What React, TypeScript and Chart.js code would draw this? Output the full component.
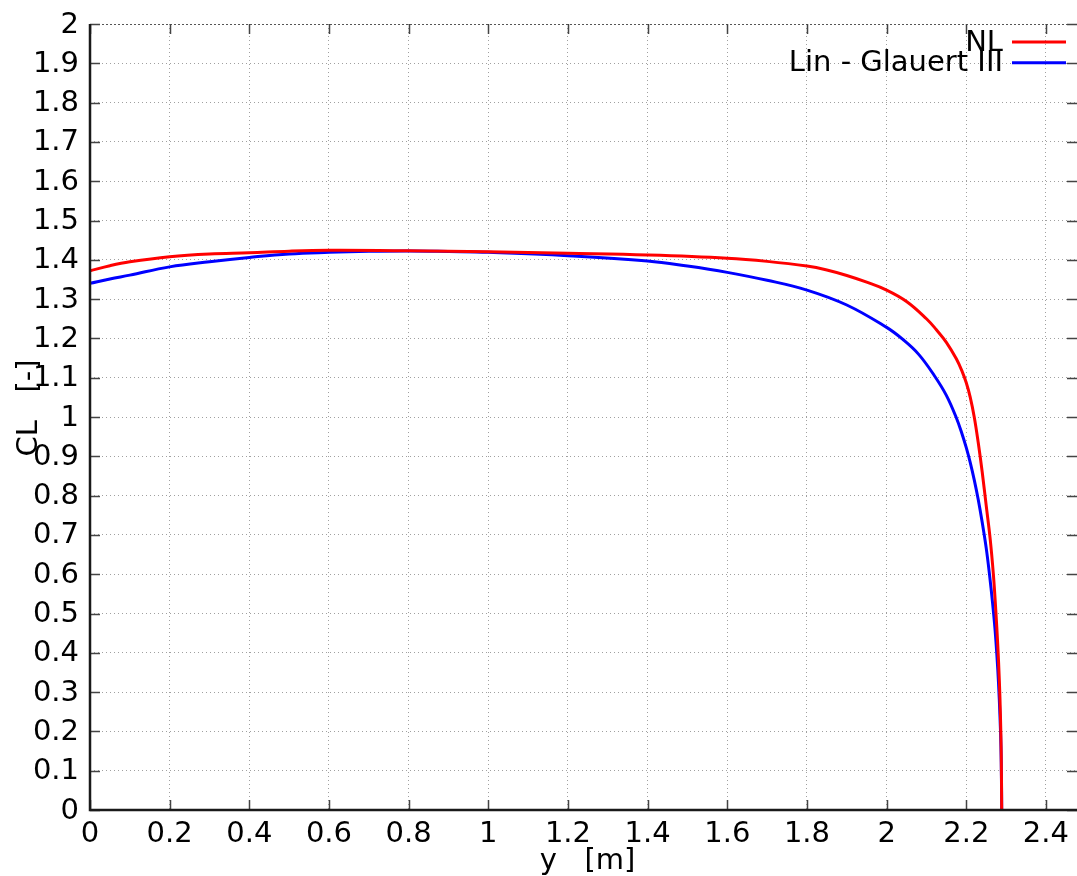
import React, { useEffect, useRef } from "react";
import { Chart, registerables } from "chart.js";

Chart.register(...registerables);

// NL series
const nlX = [0, 0.05, 0.1, 0.2, 0.3, 0.4, 0.5, 0.6, 0.8, 1.0, 1.2, 1.4, 1.6, 1.7, 1.8, 1.85, 1.9, 1.95, 2.0, 2.05, 2.1, 2.125, 2.15, 2.175, 2.19, 2.2, 2.21, 2.22, 2.23, 2.24, 2.25, 2.26, 2.268, 2.274, 2.279, 2.283, 2.2858, 2.2878, 2.289];
const nlY = [1.372, 1.385, 1.395, 1.408, 1.415, 1.418, 1.422, 1.424, 1.423, 1.4205, 1.4165, 1.412, 1.404, 1.396, 1.384, 1.374, 1.36, 1.343, 1.323, 1.294, 1.25, 1.222, 1.19, 1.148, 1.115, 1.087, 1.05, 1.0, 0.935, 0.86, 0.775, 0.69, 0.6, 0.51, 0.42, 0.33, 0.24, 0.14, 0];

// Lin - Glauert III series
const lgX = [0, 0.05, 0.1, 0.2, 0.3, 0.4, 0.5, 0.6, 0.7, 0.8, 0.9, 1.0, 1.2, 1.4, 1.5, 1.6, 1.7, 1.8, 1.9, 2.0, 2.04, 2.08, 2.12, 2.15, 2.175, 2.19, 2.2, 2.21, 2.22, 2.23, 2.24, 2.25, 2.258, 2.266, 2.272, 2.277, 2.281, 2.2845, 2.287, 2.2883, 2.289];
const lgY = [1.34, 1.351, 1.361, 1.382, 1.395, 1.406, 1.415, 1.419, 1.4215, 1.4224, 1.421, 1.419, 1.4105, 1.397, 1.384, 1.368, 1.348, 1.323, 1.285, 1.228, 1.198, 1.16, 1.105, 1.055, 0.998, 0.955, 0.922, 0.884, 0.84, 0.79, 0.732, 0.667, 0.602, 0.527, 0.462, 0.392, 0.322, 0.242, 0.162, 0.08, 0];

const xTickValues = [0, 0.2, 0.4, 0.6, 0.8, 1, 1.2, 1.4, 1.6, 1.8, 2, 2.2, 2.4];
const xTickLabels = ["0", "0.2", "0.4", "0.6", "0.8", "1", "1.2", "1.4", "1.6", "1.8", "2", "2.2", "2.4"];
const yTickValues = [0, 0.1, 0.2, 0.3, 0.4, 0.5, 0.6, 0.7, 0.8, 0.9, 1, 1.1, 1.2, 1.3, 1.4, 1.5, 1.6, 1.7, 1.8, 1.9, 2];
const yTickLabels = ["0", "0.1", "0.2", "0.3", "0.4", "0.5", "0.6", "0.7", "0.8", "0.9", "1", "1.1", "1.2", "1.3", "1.4", "1.5", "1.6", "1.7", "1.8", "1.9", "2"];

const seriesNames = ["NL", "Lin - Glauert III"];
const seriesColors = ["#ff0000", "#0000ff"];
const xTitle = "y   [m]";
const yTitle = "CL   [-]";

const FONT = "29px 'DejaVu Sans'";

const overlay = {
  id: "gnuplotOverlay",
  afterDraw(chart: any) {
    const ctx = chart.ctx as CanvasRenderingContext2D;
    const xs = chart.scales.x;
    const ys = chart.scales.y;
    const a = chart.chartArea;
    ctx.save();

    // top border (dotted, darker)
    ctx.strokeStyle = "#555";
    ctx.lineWidth = 1;
    ctx.setLineDash([2, 2]);
    ctx.beginPath();
    ctx.moveTo(a.left, a.top + 0.5);
    ctx.lineTo(a.right, a.top + 0.5);
    ctx.stroke();
    ctx.setLineDash([]);

    // inner tick marks
    ctx.strokeStyle = "#444";
    ctx.lineWidth = 1.5;
    ctx.beginPath();
    xTickValues.forEach((v) => {
      const px = Math.round(xs.getPixelForValue(v)) + 0.5;
      ctx.moveTo(px, a.bottom);
      ctx.lineTo(px, a.bottom - 10);
      ctx.moveTo(px, a.top);
      ctx.lineTo(px, a.top + 10);
    });
    yTickValues.forEach((v) => {
      const py = Math.round(ys.getPixelForValue(v)) + 0.5;
      ctx.moveTo(a.left, py);
      ctx.lineTo(a.left + 10, py);
      ctx.moveTo(a.right, py);
      ctx.lineTo(a.right - 10, py);
    });
    ctx.stroke();

    // left & bottom borders
    ctx.strokeStyle = "#1a1a1a";
    ctx.lineWidth = 2.5;
    ctx.beginPath();
    ctx.moveTo(a.left, a.top);
    ctx.lineTo(a.left, a.bottom);
    ctx.lineTo(a.right, a.bottom);
    ctx.stroke();

    // tick labels
    ctx.fillStyle = "#000";
    ctx.font = FONT;
    ctx.textAlign = "right";
    ctx.textBaseline = "middle";
    yTickValues.forEach((v, i) => {
      ctx.fillText(yTickLabels[i], a.left - 11, ys.getPixelForValue(v) + 1);
    });
    ctx.textAlign = "center";
    ctx.textBaseline = "alphabetic";
    xTickValues.forEach((v, i) => {
      ctx.fillText(xTickLabels[i], xs.getPixelForValue(v), a.bottom + 32);
    });

    // axis titles
    ctx.fillText(xTitle, (a.left + a.right) / 2 + 4, a.bottom + 59);
    ctx.save();
    ctx.translate(37, 408);
    ctx.rotate(-Math.PI / 2);
    ctx.textAlign = "center";
    ctx.fillText(yTitle, 0, 0);
    ctx.restore();

    // legend
    const rows = [42, 62.7];
    seriesNames.forEach((name, i) => {
      ctx.textAlign = "right";
      ctx.textBaseline = "middle";
      ctx.fillStyle = "#000";
      ctx.fillText(name, 1003, rows[i] + 1);
      ctx.strokeStyle = seriesColors[i];
      ctx.lineWidth = 3;
      ctx.beginPath();
      ctx.moveTo(1012, rows[i]);
      ctx.lineTo(1066, rows[i]);
      ctx.stroke();
    });

    ctx.restore();
  },
};

export default function App() {
  const ref = useRef<HTMLCanvasElement | null>(null);

  useEffect(() => {
    if (!ref.current) return;
    const mk = (xv: number[], yv: number[]) => xv.map((x, i) => ({ x, y: yv[i] }));
    const ds = (i: number, xv: number[], yv: number[]) => ({
      label: seriesNames[i],
      data: mk(xv, yv),
      showLine: true,
      borderColor: seriesColors[i],
      backgroundColor: seriesColors[i],
      borderWidth: 3,
      pointRadius: 0,
      tension: 0.4,
      fill: false,
    });
    const chart = new Chart(ref.current, {
      type: "scatter",
      data: {
        datasets: [ds(0, nlX, nlY), ds(1, lgX, lgY)],
      },
      options: {
        responsive: false,
        animation: false,
        devicePixelRatio: 1,
        layout: { padding: { left: 0, top: 24, right: 0, bottom: 0 } },
        plugins: { legend: { display: false }, tooltip: { enabled: false } },
        scales: {
          x: {
            type: "linear",
            min: 0,
            max: 2.478,
            afterBuildTicks: (s: any) => {
              s.ticks = xTickValues.map((v) => ({ value: v }));
            },
            afterFit: (s: any) => {
              s.height = 66;
            },
            ticks: { display: false },
            grid: { color: "#a0a0a0", lineWidth: 1, drawTicks: false },
            border: { display: false, dash: [1, 3] },
          },
          y: {
            type: "linear",
            min: 0,
            max: 2,
            afterBuildTicks: (s: any) => {
              s.ticks = yTickValues.map((v) => ({ value: v }));
            },
            afterFit: (s: any) => {
              s.width = 90;
            },
            ticks: { display: false },
            grid: { color: "#a0a0a0", lineWidth: 1, drawTicks: false },
            border: { display: false, dash: [1, 3] },
          },
        },
      },
      plugins: [overlay],
    } as any);
    return () => chart.destroy();
  }, []);

  return (
    <div style={{ position: "absolute", left: 0, top: 0, width: 1077, height: 876, background: "#fff" }}>
      <canvas ref={ref} width={1077} height={876} style={{ display: "block", width: 1077, height: 876 }} />
    </div>
  );
}
